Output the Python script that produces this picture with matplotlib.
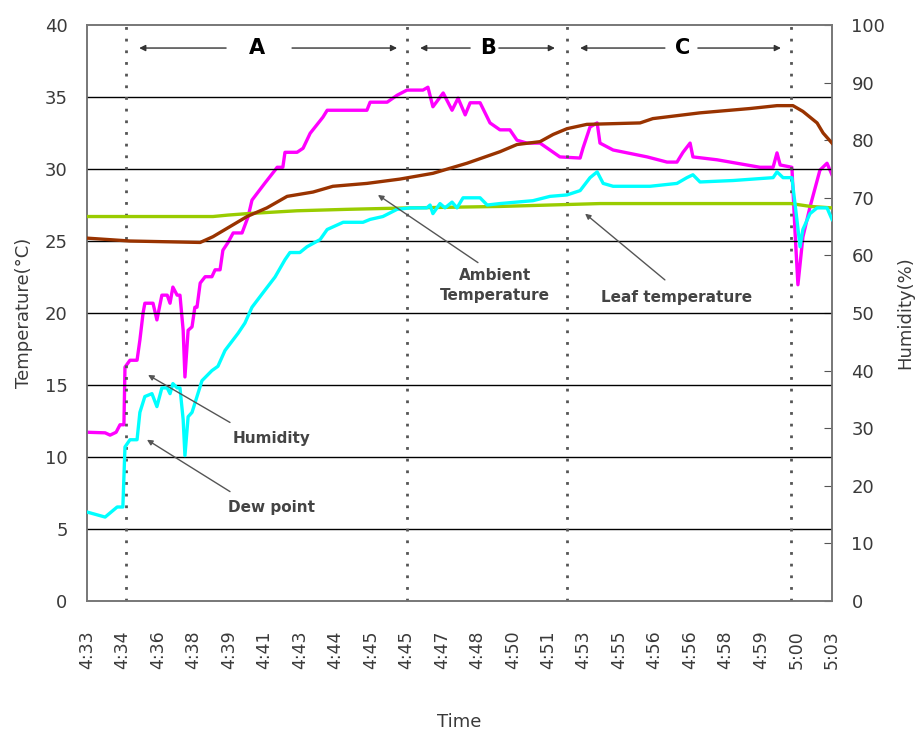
import numpy as np
import matplotlib.pyplot as plt

# x is the logger sample index, one tick label every 10 samples
tick_labels = ["4:33", "4:34", "4:36", "4:38", "4:39", "4:41", "4:43", "4:44",
               "4:45", "4:45", "4:47", "4:48", "4:50", "4:51", "4:53", "4:55",
               "4:56", "4:56", "4:58", "4:59", "5:00", "5:03"]

# humidity (%) - right axis
hum_x = [0, 5.1, 6.5, 8.2, 9.3, 10.4, 10.7, 12.1, 14.1, 14.9, 15.8, 16.3, 18.6,
         19.7, 21.1, 22.6, 23.4, 24.2, 25.4, 26.2, 27.1, 27.6, 28.5, 29.6, 30.4,
         31.0, 31.9, 33.3, 35.2, 36.1, 37.5, 38.3, 39.7, 41.2, 43.7, 45.4, 46.5,
         50.2, 53.0, 53.6, 55.2, 55.8, 59.2, 60.9, 62.9, 66.5, 67.7, 78.9, 79.8,
         84.6, 87.4, 90.2, 94.7, 96.1, 97.5, 100.4, 102.9, 104.6, 106.6, 108.0,
         110.8, 113.6, 116.4, 119.2, 121.2, 124.0, 127.7, 133.3, 139.0, 139.8,
         141.8, 143.8, 144.6, 148.3, 157.9, 163.5, 166.3, 168.0, 170.0, 170.8,
         177.6, 189.7, 193.4, 194.5, 195.4, 198.7, 199.6, 200.4, 201.8, 203.8,
         206.6, 208.6, 210.0]
hum_y = [29.3, 29.2, 28.8, 29.3, 30.6, 30.6, 40.6, 41.8, 41.8, 45.3, 50.0, 51.7, 51.7,
         48.8, 53.1, 53.1, 51.7, 54.5, 53.1, 53.1, 47.0, 38.9, 47.0, 47.6, 51.0,
         51.0, 55.2, 56.3, 56.3, 57.5, 57.5, 60.9, 62.2, 63.9, 63.9, 66.7, 69.6,
         72.6, 74.8, 75.3, 75.3, 77.9, 77.9, 78.6, 81.2, 84.0, 85.2, 85.2, 86.6,
         86.6, 87.8, 88.7, 88.7, 89.2, 85.8, 88.2, 85.2, 87.3, 84.4, 86.5,
         86.5, 83.0, 81.8, 81.8, 80.0, 79.5, 79.5, 77.1, 76.9, 78.6,
         82.3, 83.0, 79.5, 78.3, 77.1, 76.2, 76.2, 77.9, 79.5, 77.1,
         76.6, 75.3, 75.3, 77.8, 75.7, 75.3, 63.9, 54.9, 63.2, 68.4,
         74.8, 76.0, 74.0]

# dew point (C)
dew_x = [0, 5.1, 8.5, 10.1, 10.7, 12.1, 14.1, 14.9, 16.3, 18.3, 19.7, 21.1, 22.6,
         23.4, 24.2, 25.4, 26.2, 27.1, 27.6, 28.5, 29.6, 31.0, 32.4, 35.2, 36.9,
         38.9, 42.6, 44.5, 46.5, 50.2, 53.0, 55.8, 57.2, 60.0, 62.0, 65.7, 67.7,
         72.2, 77.8, 79.8, 83.4, 87.4, 91.0, 95.8, 96.7, 97.5, 99.5, 100.9, 102.9,
         104.3, 106.0, 110.8, 112.8, 116.4, 125.7, 130.5, 135.3, 139.0, 141.8,
         143.8, 145.5, 148.3, 158.7, 166.3, 169.1, 170.8, 172.8, 182.1, 193.4,
         194.5, 196.2, 198.7, 200.1, 201.0, 201.8, 203.8, 205.8, 208.6, 210.0]
dew_y = [6.18, 5.83, 6.53, 6.53, 10.7, 11.2, 11.2, 13.1, 14.2, 14.4, 13.5, 14.8, 14.8,
         14.4, 15.1, 14.8, 14.8, 12.6, 10.1, 12.8, 13.1, 14.2, 15.3, 16.0, 16.3,
         17.4, 18.6, 19.3, 20.4, 21.6, 22.5, 23.7, 24.2, 24.2, 24.6, 25.1, 25.8,
         26.3, 26.3, 26.5, 26.7, 27.2, 27.3, 27.3, 27.5, 26.9, 27.6, 27.3, 27.7,
         27.3, 28.0, 28.0, 27.5, 27.6, 27.8, 28.1, 28.2, 28.5, 29.4,
         29.8, 29.0, 28.8, 28.8, 29.0, 29.4, 29.6, 29.1, 29.2, 29.4,
         29.8, 29.4, 29.4, 26.5, 24.6, 25.8, 26.9, 27.3, 27.3, 26.5]

# ambient temperature (C)
amb_x = [0, 12.1, 31.9, 35.5, 40.3, 45.1, 50.7, 56.4, 63.7, 69.3, 78.9, 88.2, 97.5,
         107.1, 116.4, 121.2, 127.7, 131.4, 135.3, 140.9, 155.9, 159.5, 172.8,
         186.9, 194.5, 199.0, 201.8, 205.8, 207.5, 210.0]
amb_y = [25.2, 25.0, 24.9, 25.3, 26.0, 26.7, 27.3, 28.1, 28.4, 28.8, 29.0, 29.3, 29.7,
         30.4, 31.2, 31.7, 31.9, 32.4, 32.8, 33.1, 33.2, 33.5, 33.9,
         34.2, 34.4, 34.4, 34.0, 33.2, 32.5, 31.8]

# leaf temperature (C)
leaf_x = [0, 35.5, 39.7, 45.1, 59.2, 73.3, 91.0, 116.4, 144.6, 198.4, 201.2, 204.0, 210.0]
leaf_y = [26.7, 26.7, 26.8, 26.9, 27.1, 27.2, 27.3, 27.4, 27.6, 27.6, 27.5, 27.4, 27.3]

# phase boundaries (dotted lines) and phase names
bounds = [11.0, 90.2, 135.3, 198.4]
phases = ["A", "B", "C"]
phase_text_x = [47.9, 113.0, 168.0]
phase_arrows = [(14.7, 39.2, 57.8, 87.4), (93.9, 108.0, 116.1, 131.9),
                (139.0, 162.9, 172.2, 195.6)]

txt_col = "#3a3a3a"
fig = plt.figure(figsize=(9.18, 7.31), dpi=100)
ax = fig.add_axes([0.0948, 0.1778, 0.8115, 0.788])
ax2 = ax.twinx()

ax.set_xlim(0, 210)
ax.set_ylim(0, 40)
ax2.set_ylim(0, 100)

for y in range(5, 40, 5):
    ax.axhline(y, color="black", lw=1, zorder=1)
for b in bounds:
    ax.axvline(b, color="#555555", lw=2, ls=(0, (1, 3.2)), zorder=2)

ax.plot(leaf_x, leaf_y, color="#99CC00", lw=2.4, zorder=3)
ax.plot(amb_x, amb_y, color="#993300", lw=2.4, zorder=3)
ax.plot(dew_x, dew_y, color="#00FFFF", lw=2.4, zorder=4)
ax2.plot(hum_x, hum_y, color="#FF00FF", lw=2.4, zorder=4)

ax.set_xticks(np.arange(0, 211, 10))
ax.set_xticklabels(tick_labels, rotation=90, fontsize=12.5, color=txt_col)
ax.set_yticks(range(0, 41, 5))
ax.tick_params(axis="y", length=0, labelsize=13, labelcolor=txt_col, pad=14)
ax.tick_params(axis="x", length=0, pad=21)
ax2.set_yticks(range(0, 101, 10))
ax2.tick_params(axis="y", direction="in", length=6, labelsize=13,
                labelcolor=txt_col, pad=14, color="#555555")

for a in (ax, ax2):
    for s in a.spines.values():
        s.set_color("#777777")
        s.set_linewidth(1.2)

ax.set_ylabel("Temperature(\u00b0C)", fontsize=13, color=txt_col, labelpad=8)
ax2.set_ylabel("Humidity(%)", fontsize=13, color=txt_col, labelpad=8)
ax.set_xlabel("Time", fontsize=13, color=txt_col, labelpad=32)

# top phase arrows
ytop = 38.4
for name, tx, (h1, t1, t2, h2) in zip(phases, phase_text_x, phase_arrows):
    ax.text(tx, ytop, name, ha="center", va="center", fontsize=15,
            fontweight="bold", color="black")
    for head, tail in ((h1, t1), (h2, t2)):
        ax.annotate("", xy=(head, ytop), xytext=(tail, ytop),
                    arrowprops=dict(arrowstyle="-|>", color="#333333", lw=1,
                                    mutation_scale=9, shrinkA=0, shrinkB=0))

# series annotations
ann = [("Ambient\nTemperature", (82.0, 28.2), (115.0, 21.9), (110.2, 23.5)),
       ("Leaf temperature", (140.4, 26.9), (166.3, 21.1), (162.9, 22.3)),
       ("Humidity", (17.2, 15.7), (52.1, 11.3), (40.3, 12.4)),
       ("Dew point", (16.9, 11.2), (52.1, 6.5), (40.3, 7.6))]
for label, head, tpos, tail in ann:
    ax.text(tpos[0], tpos[1], label, ha="center", va="center", fontsize=11,
            fontweight="bold", color="#444444", linespacing=1.4, zorder=6)
    ax.annotate("", xy=head, xytext=tail,
                arrowprops=dict(arrowstyle="-|>", color="#555555", lw=1,
                                mutation_scale=8, shrinkA=0, shrinkB=0),
                zorder=6)

ax.set_zorder(ax2.get_zorder() + 1)
ax.patch.set_visible(False)
ax2.patch.set_visible(True)
ax2.patch.set_facecolor("white")

fig.savefig("out.png", dpi=100)
